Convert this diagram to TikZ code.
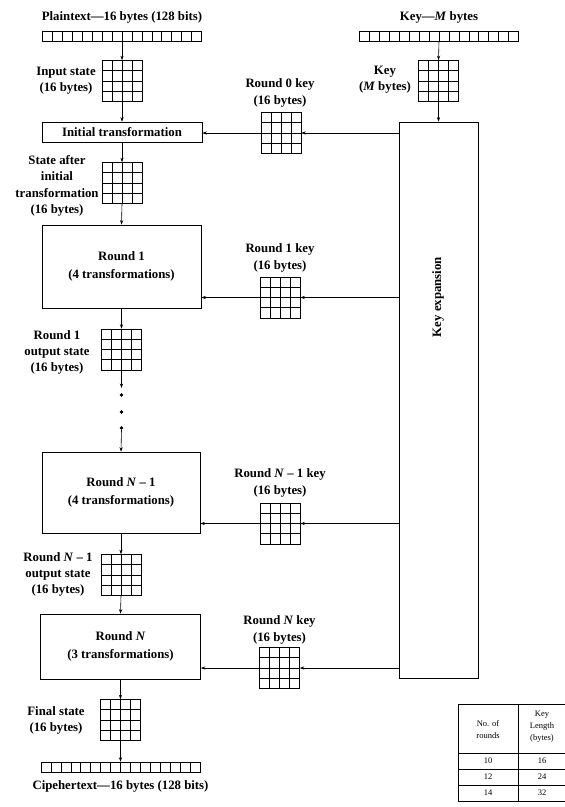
\documentclass[tikz,border=0pt]{standalone}
\usepackage{fontspec}
\setmainfont{Liberation Serif}
\usetikzlibrary{calc,arrows.meta}
\begin{document}
\begin{tikzpicture}[x=1pt,y=-1pt,line width=0.6pt,
  lbl/.style={font=\bfseries\fontsize{12.8}{16.3}\selectfont,align=center,inner sep=0},
  tbl/.style={font=\fontsize{8.5}{12}\selectfont,align=center,inner sep=0},
  box/.style={draw,line width=0.7pt,font=\bfseries\fontsize{12.8}{18}\selectfont,align=center,inner sep=0},
  arr/.style={-{Stealth[length=4.5pt,width=3.2pt]}},
  dotn/.style={circle,fill=black,inner sep=0,minimum size=3.6pt},
  bytegrid/.style={draw,minimum width=40pt,minimum height=41pt,inner sep=0,
    path picture={
      \foreach \i in {1,2,3}{
        \draw ($(path picture bounding box.north west)!\i/4!(path picture bounding box.north east)$) --
              ($(path picture bounding box.south west)!\i/4!(path picture bounding box.south east)$);
        \draw ($(path picture bounding box.north west)!\i/4!(path picture bounding box.south west)$) --
              ($(path picture bounding box.north east)!\i/4!(path picture bounding box.south east)$);
      }}},
  bytebar/.style={draw,minimum width=159pt,minimum height=10pt,inner sep=0,
    path picture={
      \foreach \i in {1,...,15}{
        \draw ($(path picture bounding box.north west)!\i/16!(path picture bounding box.north east)$) --
              ($(path picture bounding box.south west)!\i/16!(path picture bounding box.south east)$);
      }}}
]
\useasboundingbox (0,0) rectangle (565,807);
\fill[white] (0,0) rectangle (565,807);

% ---- main column ----
\node[lbl] (ptlbl) at (122,17) {Plaintext—16 bytes (128 bits)};
\node[bytebar] (ptbar) at (122,36) {};
\node[bytegrid] (ing) at (122,81) {};
\node[lbl] (inl) at (66,81) {Input state\\(16 bytes)};
\node[box,minimum width=160pt,minimum height=20pt] (init) at (122,132) {Initial transformation};
\node[bytegrid] (sag) at (122,183) {};
\node[lbl] (sal) at (57,186) {State after\\initial\\transformation\\(16 bytes)};
\node[box,minimum width=159pt,minimum height=83pt] (r1) at (121.5,266.5) {Round 1\\(4 transformations)};
\node[bytegrid] (r1o) at (121.5,349.5) {};
\node[lbl] (r1ol) at (57,352.5) {Round 1\\output state\\(16 bytes)};
\coordinate (d0) at (121.5,388);
\node[dotn] (dt1) at (121.5,395) {};
\node[dotn] (dt2) at (121.5,412) {};
\node[dotn] (dt3) at (121.5,428) {};
\coordinate (d4) at (121.5,430);
\node[box,minimum width=158pt,minimum height=81pt] (rn1) at (121,492.5) {Round \textit{N} – 1\\(4 transformations)};
\node[bytegrid] (rn1o) at (121,575) {};
\node[lbl] (rn1ol) at (58,574.5) {Round \textit{N} – 1\\output state\\(16 bytes)};
\node[box,minimum width=160pt,minimum height=65pt] (rn) at (120.5,646.5) {Round \textit{N}\\(3 transformations)};
\node[bytegrid] (fin) at (120.5,720) {};
\node[lbl] (finl) at (56,720.5) {Final state\\(16 bytes)};
\node[bytebar] (ctbar) at (120.5,767) {};
\node[lbl] (ctlbl) at (120.5,786) {Cipehertext—16 bytes (128 bits)};

\draw[arr] (ptbar.south) -- (ing.north);
\draw[arr] (ing.south) -- (init.north);
\draw[arr] (init.south) -- (sag.north);
\draw[arr] (sag.south) -- (r1.north);
\draw[arr] (r1.south) -- (r1o.north);
\draw[arr] (r1o.south) -- (d0);
\draw[arr] (d4) -- (rn1.north);
\draw[arr] (rn1.south) -- (rn1o.north);
\draw[arr] (rn1o.south) -- (rn.north);
\draw[arr] (rn.south) -- (fin.north);
\draw[arr] (fin.south) -- (ctbar.north);

% ---- key column ----
\node[lbl] (klbl) at (439,17) {Key—\textit{M} bytes};
\node[bytebar] (kbar) at (439,36) {};
\node[bytegrid] (kg) at (438.5,81) {};
\node[lbl] (kgl) at (385,80) {Key\\(\textit{M} bytes)};
\node[draw,line width=0.7pt,minimum width=79pt,minimum height=556pt,inner sep=0] (kexp) at (438.5,400) {};
\node[lbl,rotate=90] (kexpl) at (438,297) {Key expansion};

\node[lbl] (k0l) at (280,93) {Round 0 key\\(16 bytes)};
\node[bytegrid] (k0) at (281,133) {};
\node[lbl] (k1l) at (280,258) {Round 1 key\\(16 bytes)};
\node[bytegrid] (k1) at (280,297.5) {};
\node[lbl] (kn1l) at (280,483) {Round \textit{N} – 1 key\\(16 bytes)};
\node[bytegrid] (kn1) at (280,523.5) {};
\node[lbl] (knl) at (279.5,630) {Round \textit{N} key\\(16 bytes)};
\node[bytegrid] (kn) at (279.5,668) {};

\draw[arr] (kbar.south) -- (kg.north);
\draw[arr] (kg.south) -- (kexp.north);
\draw[arr] (kexp.west |- k0.east) -- (k0.east);
\draw[arr] (k0.west) -- (k0.west -| init.east);
\draw[arr] (kexp.west |- k1.east) -- (k1.east);
\draw[arr] (k1.west) -- (k1.west -| r1.east);
\draw[arr] (kexp.west |- kn1.east) -- (kn1.east);
\draw[arr] (kn1.west) -- (kn1.west -| rn1.east);
\draw[arr] (kexp.west |- kn.east) -- (kn.east);
\draw[arr] (kn.west) -- (kn.west -| rn.east);

% ---- table ----
\draw (565,704) -- (458,704) -- (458,801) -- (565,801);
\draw (518,704) -- (518,801);
\draw (458,753) -- (565,753);
\draw (458,769) -- (565,769);
\draw[line width=0.9pt] (458,785) -- (565,785);
\node[tbl] (th1) at (488,730) {No. of\\rounds};
\node[tbl] (th2) at (542,727) {Key\\Length\\(bytes)};
\node[tbl] (t11) at (488,761) {10};
\node[tbl] (t12) at (542,761) {16};
\node[tbl] (t21) at (488,777) {12};
\node[tbl] (t22) at (542,777) {24};
\node[tbl] (t31) at (488,793) {14};
\node[tbl] (t32) at (542,793) {32};
\end{tikzpicture}
\end{document}
